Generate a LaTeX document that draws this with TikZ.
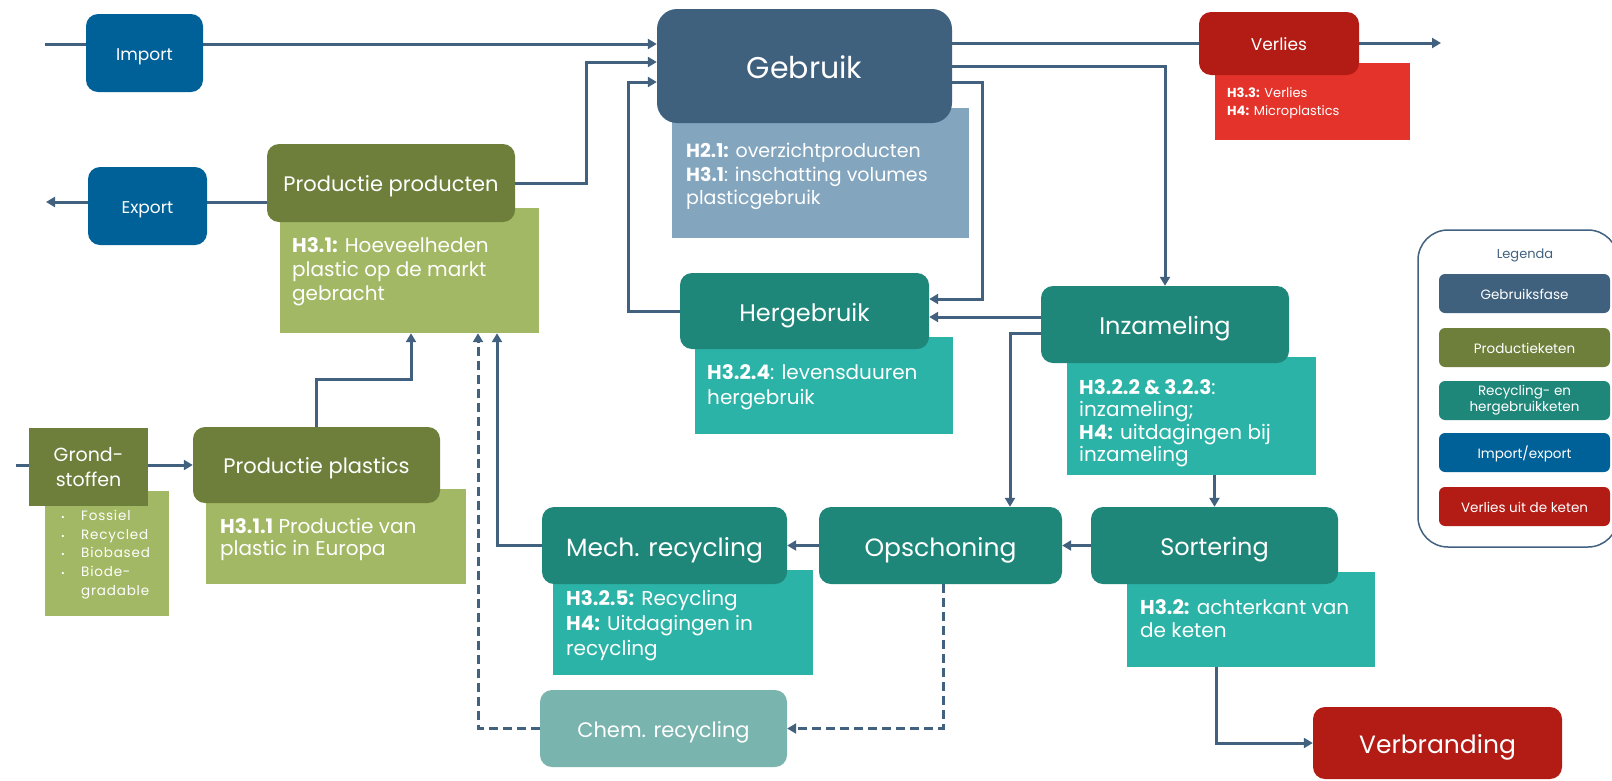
\documentclass[tikz,border=0pt]{standalone}
\usepackage{fontspec}
\setmainfont{Poppins}
\usetikzlibrary{arrows.meta}
\definecolor{gebD}{HTML}{40617E}
\definecolor{gebL}{HTML}{83A5BE}
\definecolor{prodD}{HTML}{6E7F3C}
\definecolor{prodL}{HTML}{A2B864}
\definecolor{tealD}{HTML}{1F877A}
\definecolor{tealL}{HTML}{2AB3A6}
\definecolor{chemC}{HTML}{79B4AE}
\definecolor{impC}{HTML}{006199}
\definecolor{redD}{HTML}{B31B15}
\definecolor{redL}{HTML}{E4332A}
\definecolor{lineC}{HTML}{41617F}
\newcommand\myfs[2]{\fontsize{#1}{#2}\selectfont}
\newcommand\mybul{\makebox[20pt][l]{\myfs{9}{9}\textbullet}}
\newcommand\mc[1]{\raisebox{-0.42em}[0pt][0pt]{#1}}
\pgfdeclarelayer{bg}
\pgfsetlayers{bg,main}
\begin{document}
\begin{tikzpicture}[x=1pt,y=-1pt,
  box/.style={rounded corners=12pt, inner sep=0pt, text=white, align=center},
  notebox/.style={inner sep=0pt},
  txt/.style={text=white, inner sep=0pt, anchor=north west, align=left},
  flow/.style={draw=lineC, line width=3pt, -{Triangle[length=9pt,width=10pt]}},
  plain/.style={draw=lineC, line width=3pt},
  dflow/.style={flow, dash pattern=on 9pt off 5pt},
  bigf/.style={font=\myfs{24}{28}},
  midf/.style={font=\myfs{21}{25}},
  legitem/.style={box, rounded corners=6pt, minimum width=171pt, minimum height=39pt, font=\myfs{13.5}{16}}
]
\useasboundingbox (0,0) rectangle (1612,780);

% ---------- notes ----------
\node[notebox, fill=gebL, minimum width=297pt, minimum height=130pt] (gebn) at (820.5,173) {};
\node[txt, font=\myfs{19}{23.5}] (gebt) at (686,143) {\textbf{H2.1:} overzichtproducten\\\textbf{H3.1}: inschatting volumes\\plasticgebruik};

\node[notebox, fill=redL, minimum width=195pt, minimum height=77pt] (verln) at (1312.5,101.5) {};
\node[txt, font=\myfs{13}{18}] (verlt) at (1227,87) {\textbf{H3.3:} Verlies\\\textbf{H4:} Microplastics};

\node[notebox, fill=prodL, minimum width=259pt, minimum height=125pt] (prpn) at (409.5,270.5) {};
\node[txt, font=\myfs{20}{24}] (prpt) at (292,237) {\textbf{H3.1:} Hoeveelheden\\plastic op de markt\\gebracht};

\node[notebox, fill=tealL, minimum width=258pt, minimum height=97pt] (hergn) at (824,385.5) {};
\node[txt, font=\myfs{20}{25}] (hergt) at (707,364) {\textbf{H3.2.4}: levensduuren\\hergebruik};

\node[notebox, fill=tealL, minimum width=249pt, minimum height=118pt] (inzn) at (1191.5,416) {};
\node[txt, font=\myfs{20}{22.5}] (inzt) at (1079,379) {\textbf{H3.2.2 \& 3.2.3}:\\inzameling;\\\textbf{H4:} uitdagingen bij\\inzameling};

\node[notebox, fill=prodL, minimum width=124pt, minimum height=125pt] (grondn) at (107,553.5) {};
\node[txt, font=\myfs{13.5}{18.75}\addfontfeatures{LetterSpace=6}] (grondt) at (61,510) {\mybul Fossiel\\\mybul Recycled\\\mybul Biobased\\\mybul Biode-\\\makebox[20pt][l]{}gradable};

\node[notebox, fill=prodL, minimum width=260pt, minimum height=95pt] (ppln) at (336,536.5) {};
\node[txt, font=\myfs{20}{22}] (pplt) at (220,518) {\textbf{H3.1.1} Productie van\\plastic in Europa};

\node[notebox, fill=tealL, minimum width=260pt, minimum height=105pt] (mechn) at (683,622.5) {};
\node[txt, font=\myfs{20}{25}] (mecht) at (566,590) {\textbf{H3.2.5:} Recycling\\\textbf{H4:} Uitdagingen in\\recycling};

\node[notebox, fill=tealL, minimum width=248pt, minimum height=95pt] (sortn) at (1251,619.5) {};
\node[txt, font=\myfs{20}{23}] (sortt) at (1140,599) {\textbf{H3.2:} achterkant van\\de keten};

% ---------- boxes ----------
\node[box, fill=impC, minimum width=117pt, minimum height=78pt, font=\myfs{17}{20}] (imp) at (144.5,53) {\mc{Import}};
\node[box, fill=impC, minimum width=119pt, minimum height=78pt, font=\myfs{17}{20}] (exp) at (147.5,206) {\mc{Export}};
\node[box, fill=gebD, rounded corners=20pt, minimum width=295pt, minimum height=114pt, font=\myfs{30}{34}] (geb) at (804.5,66) {\mc{Gebruik}};
\node[box, fill=redD, minimum width=160pt, minimum height=63pt, font=\myfs{17}{20}] (verl) at (1279,43.5) {\mc{Verlies}};
\node[box, fill=prodD, minimum width=248pt, minimum height=78pt, midf] (prp) at (391,183) {\mc{Productie producten}};
\node[box, fill=tealD, minimum width=249pt, minimum height=76pt, bigf] (herg) at (804.5,311) {\mc{Hergebruik}};
\node[box, fill=tealD, minimum width=248pt, minimum height=77pt, bigf] (inz) at (1165,324.5) {\mc{Inzameling}};
\node[box, fill=prodD, rounded corners=0pt, minimum width=119pt, minimum height=78pt, font=\myfs{19}{25}] (grond) at (88.5,467) {Grond-\\stoffen};
\node[box, fill=prodD, minimum width=247pt, minimum height=76pt, midf] (ppl) at (316.5,465) {\mc{Productie plastics}};
\node[box, fill=tealD, minimum width=245pt, minimum height=77pt, font=\myfs{25}{28}] (mech) at (664.5,545.5) {\mc{Mech. recycling}};
\node[box, fill=tealD, minimum width=243pt, minimum height=77pt, font=\myfs{25}{28}] (ops) at (940.5,545.5) {\mc{Opschoning}};
\node[box, fill=tealD, minimum width=247pt, minimum height=77pt, bigf] (sort) at (1214.5,545.5) {\mc{Sortering}};
\node[box, fill=chemC, minimum width=247pt, minimum height=77pt, midf] (chem) at (663.5,728.5) {\mc{Chem. recycling}};
\node[box, fill=redD, minimum width=249pt, minimum height=72pt, font=\myfs{25}{28}] (verb) at (1437.5,743) {\mc{Verbranding}};

% ---------- legend ----------
\node[draw=lineC, line width=1.5pt, rounded corners=30pt, minimum width=200pt, minimum height=317pt, inner sep=0pt] (leg) at (1518,388.5) {};
\node[text=lineC, font=\myfs{13}{16}, inner sep=0pt] (legt) at (1525,255) {Legenda};
\node[legitem, fill=gebD] (l1) at (1524.5,293.5) {\mc{Gebruiksfase}};
\node[legitem, fill=prodD] (l2) at (1524.5,347.5) {\mc{Productieketen}};
\node[legitem, fill=tealD] (l3) at (1524.5,400.5) {Recycling- en\\hergebruikketen};
\node[legitem, fill=impC] (l4) at (1524.5,452.5) {\mc{Import/export}};
\node[legitem, fill=redD] (l5) at (1524.5,506.5) {\mc{Verlies uit de keten}};

% ---------- free ends ----------
\coordinate (impin) at (45,44);
\coordinate (expout) at (46,202);
\coordinate (verlout) at (1441,43);
\coordinate (grin) at (16,465);

% ---------- connectors ----------
\begin{pgfonlayer}{bg}
\draw[flow] (impin) -- (geb.west |- impin);
\draw[flow] (prp.west |- expout) -- (expout);
\draw[flow] (geb.east |- verlout) -- (verlout);
\draw[flow] (prp.east) -| (586,62) -- (geb.west |- 0,62);
\draw[flow] (herg.west) -| (628,82) -- (geb.west |- 0,82);
\draw[flow] (geb.east |- 0,66) -| (inz.north);
\draw[flow] (geb.east |- 0,82) -| (982,299) -- (herg.east |- 0,299);
\draw[flow] (inz.west |- 0,317) -- (herg.east |- 0,317);
\draw[flow] (inz.west |- 0,333) -| (ops.north -| 1010,0);
\draw[flow] (sort.north |- inzn.south) -- (sort.north);
\draw[flow] (sort.west) -- (ops.east);
\draw[flow] (ops.west) -- (mech.east);
\draw[dflow] (ops.south -| 943,0) |- (chem.east);
\draw[dflow] (chem.west) -| (prpn.south -| 478,0);
\draw[flow] (mech.west) -| (prpn.south -| 497,0);
\draw[flow] (ppl.north) |- (411,379) -- (prpn.south -| 411,0);
\draw[plain] (grin) -- (grond.west |- grin);
\draw[flow] (grond.east |- grin) -- (ppl.west |- grin);
\draw[flow] (sortn.south -| 1216,0) |- (verb.west);
\end{pgfonlayer}
\end{tikzpicture}
\end{document}
